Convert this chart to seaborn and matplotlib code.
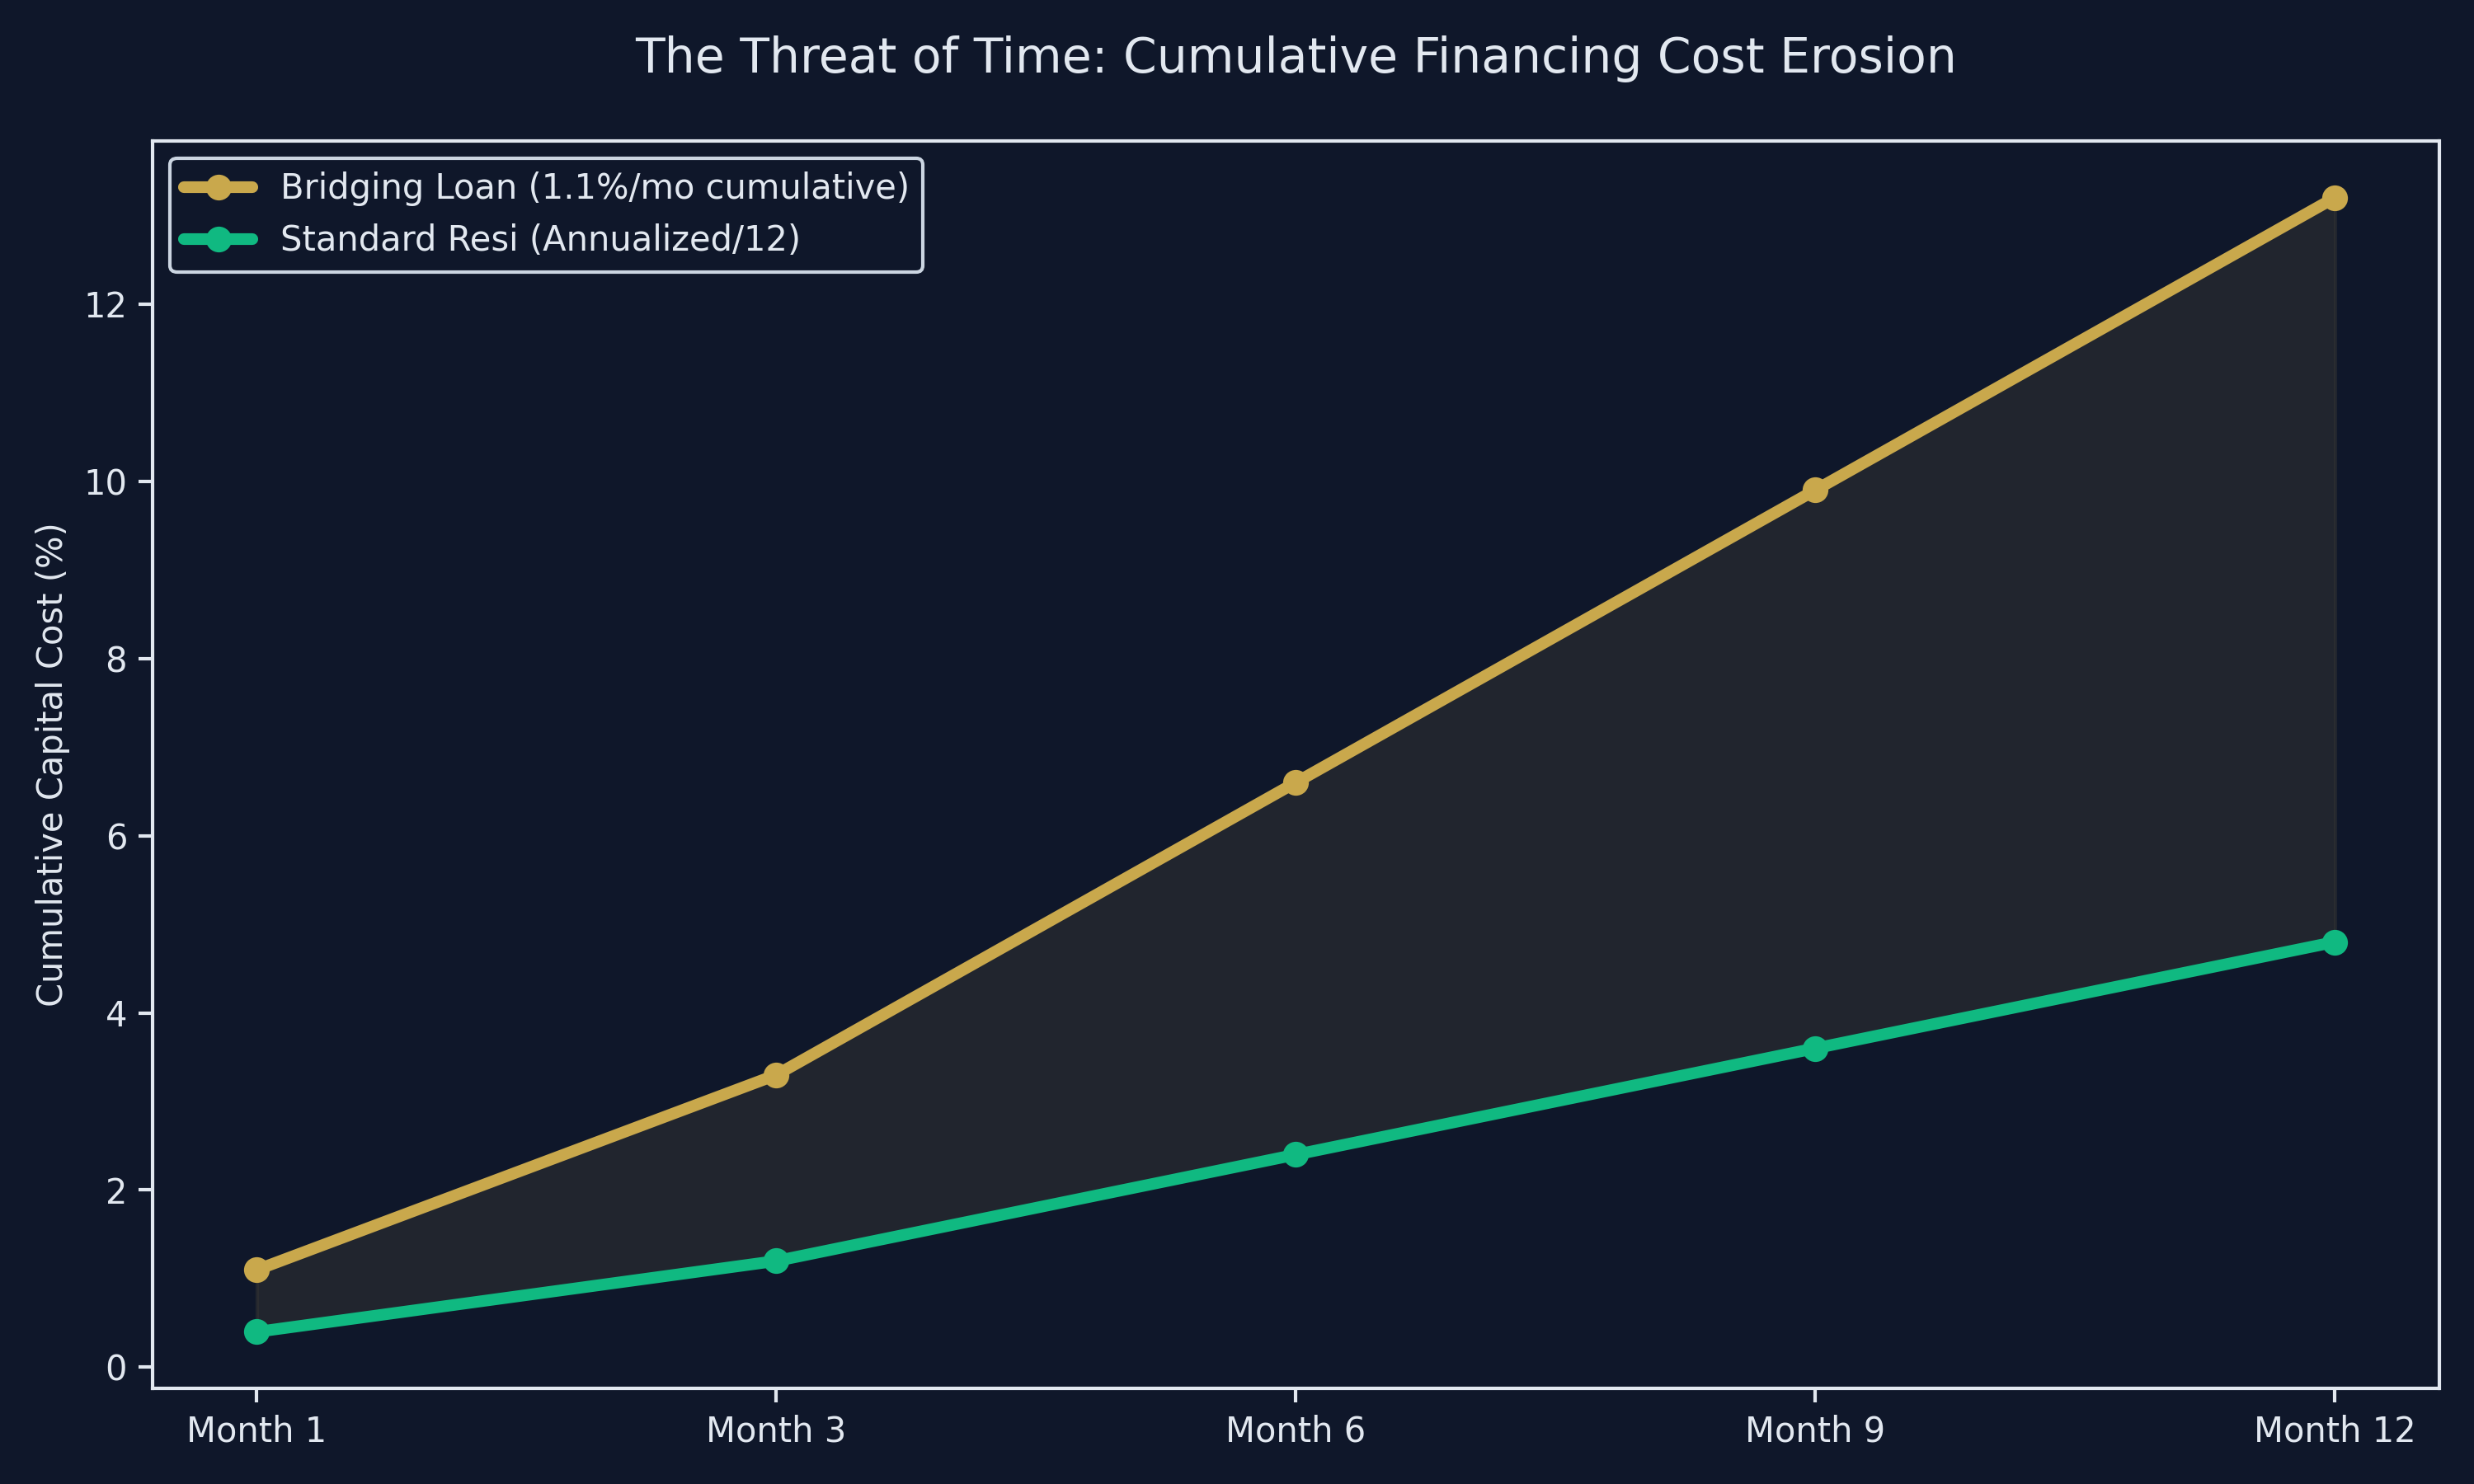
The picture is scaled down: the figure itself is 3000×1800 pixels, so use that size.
import pandas as pd
import seaborn as sns
import numpy as np
import matplotlib.pyplot as plt

bg = '#0f172a'
fg = '#e2e8f0'
gold = '#c9a84c'
green = '#10b981'

months = ['Month 1', 'Month 3', 'Month 6', 'Month 9', 'Month 12']
bridging = [1.1, 3.3, 6.6, 9.9, 13.2]
standard = [0.4, 1.2, 2.4, 3.6, 4.8]
labels = ['Bridging Loan (1.1%/mo cumulative)', 'Standard Resi (Annualized/12)']

df = pd.DataFrame({
    'Month': months * 2,
    'Cost': bridging + standard,
    'Series': [labels[0]] * len(months) + [labels[1]] * len(months),
})

sns.set_theme(style='dark')
plt.rcParams['font.family'] = ['DejaVu Sans']
plt.rcParams.update({
    'figure.facecolor': bg, 'axes.facecolor': bg, 'axes.edgecolor': fg,
    'text.color': fg, 'axes.labelcolor': fg, 'xtick.color': fg, 'ytick.color': fg,
})

fig, ax = plt.subplots(figsize=(10, 6), dpi=300)
sns.lineplot(data=df, x='Month', y='Cost', hue='Series', palette=[gold, green],
             marker='o', markersize=7.5, markeredgewidth=0, linewidth=3.4, ax=ax)

pos = np.arange(len(months))
ax.fill_between(pos, standard, bridging, color='#333333', alpha=0.5, linewidth=1)

ax.set_title('The Threat of Time: Cumulative Financing Cost Erosion', fontsize=14, color=fg, pad=20)
ax.set_xlabel('')
ax.set_ylabel('Cumulative Capital Cost (%)', fontsize=10)
ax.tick_params(axis='both', labelsize=10, colors=fg, length=4, width=1, bottom=True, left=True)
for s in ax.spines.values():
    s.set_color(fg)
    s.set_linewidth(1)
ax.grid(False)

leg = ax.legend(loc='upper left', fontsize=10, facecolor=bg, edgecolor='#cbd5e1', framealpha=1)
for t in leg.get_texts():
    t.set_color(fg)

plt.tight_layout(pad=0.85)
plt.savefig('out.png', dpi=300, facecolor=bg)
